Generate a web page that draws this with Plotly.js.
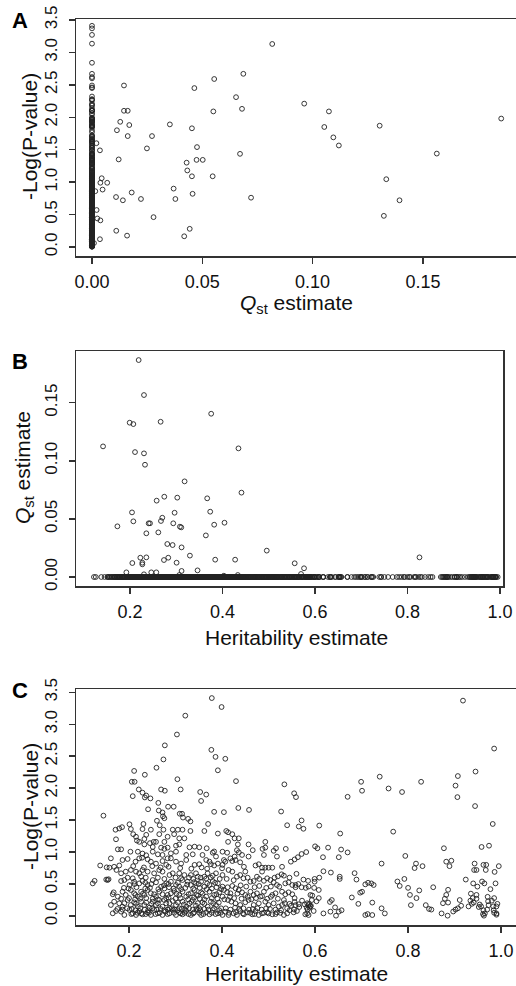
<!DOCTYPE html>
<html><head><meta charset="utf-8">
<script src="https://cdn.plot.ly/plotly-3.0.1.min.js"></script>
<style>html,body{margin:0;padding:0;background:#fff}#plot{width:516px;height:986px}</style>
</head><body><div id="plot"></div>
<script>
// Panel C: heritability estimate vs -Log(P-value)
const cHerit = [
.378,.399,.321,.303,.277,.274,.377,.386,.407,.391,.430,.259,.234,.211,.206,.212,.304,.208,.221,.229,.237,.246,.234,.269,.277,.311,.353,.366,.355,.241,.263,.264,.272,.284,.296,.309,.314,.327,.332,.316,.231,.260,.266,.273,.276,.370,.404,.435,.458,.145,.527,.534,.555,.559,.540,.571,.565,.575,.609,.670,.699,.701,.739,.758,.787,.828,.768,.902,.906,.907,.918,.945,.944,.985,.982,.974,.958,.654,.383,.201,
.171,.179,.185,.204,.229,.247,.274,.294,.305,.315,.332,.362,.391,.209,.215,.237,.265,.283,.297,.308,.319,.233,.253,.276,.172,.217,.222,.233,.245,.258,.269,.276,.283,.301,.308,.330,.341,.351,.367,.383,.251,.176,.183,.203,.219,.229,.237,.251,.262,.272,.290,.301,.323,.337,.358,.380,.387,.401,.222,.228,.240,
.161,.186,.197,.214,.247,.258,.272,.280,.283,.290,.301,.312,.323,.341,.351,.366,.373,.376,.383,.391,.401,.138,.152,.158,.168,.179,
.204,.215,.222,.229,.240,.254,.265,.272,.287,.294,.308,.319,.333,.344,.348,.362,.369,.380,.387,.401,.183,.193,.173,
.122,.154,.183,.190,.201,.211,.222,.229,.240,.251,.258,.269,.280,.290,.301,.308,.315,.326,.333,.344,.355,.362,.373,.380,.391,.401,.126,.151,.156,.167,
.186,.193,.204,.211,.219,.226,.233,.240,.247,.258,.265,.272,.280,.290,.297,.308,.315,.323,.333,.341,.348,.355,.366,.373,.383,.394,.401,.165,.176,
.161,.168,.179,.186,.197,.204,.211,.219,.226,.233,.244,.251,.258,.265,.272,.280,.287,.294,.301,.308,.315,.323,.330,.337,.344,.351,.358,.369,.376,.387,.398,
.165,.172,.183,.190,.201,.208,.215,.222,.229,.240,.247,.254,.262,.272,.278,.287,.294,.301,.308,.315,.323,.333,.340,.348,.355,.366,.373,.380,.391,.401,
.409,.413,.422,.427,.413,.436,.434,.457,.493,.487,.493,.411,.432,.436,.418,.427,.443,.466,.490,.518,.404,.407,.422,.429,.439,.447,.457,.472,.479,.486,.493,.500,.508,.529,.400,.414,.422,.432,.439,.450,.461,.468,.475,.486,.497,.504,.511,.518,.523,.528,.533,.536,.543,.551,.558,.599,.608,
.404,.411,.418,.429,.436,.443,.450,.461,.468,.475,.482,.490,.508,.515,.529,.536,.543,.551,.590,.413,.420,.429,.439,.450,.457,.468,.479,.493,.500,.511,.522,.529,.540,.565,.597,.633,.651,
.407,.414,.425,.432,.439,.447,.454,.465,.472,.479,.486,.497,.508,.518,.533,.540,.554,.561,.579,
.656,.670,.600,.605,.628,.617,.581,.571,.563,.556,.548,.537,.516,.511,.651,.618,.634,.609,.653,.653,.599,.685,.689,.708,.714,.721,.726,.743,.794,.817,.814,.831,.792,.777,.782,.800,.804,.818,.824,.806,.838,.854,.850,.877,.882,.893,.889,.872,.886,.882,.879,.886,.875,.885,.897,.924,.911,.914,.907,.902,.943,.942,.947,.967,.962,.968,.986,.995,.940,.949,.959,.964,.988,.977,.971,.935,.939,.947,.941,.934,.937,.957,.962,.961,.965,.973,.980,.983,.990,.985,.990,.985,.954,.930,
.643,.618,.645,.636,.632,.657,.598,.586,.580,.571,.564,.558,.594,.608,.583,.586,.590,.588,.583,.586,.556,.558,.555,.545,.679,.693,.697,.701,.723,.708,.713,.723,.743,.750,.845,.947,.952,.970,.984,.990,.963,.972,.992,
.197,.208,.226,.236,.262,.276,.300,.312,.329,.338,.354,.366,.376,.395,
.189,.199,.216,.235,.245,.263,.276,.286,.296,.312,.321,.338,.352,.367,.378,.388,.398,
.183,.200,.213,.224,.237,.251,.262,.276,.285,.300,.311,.327,.340,.352,.362,.378,.390,
.175,.186,.196,.206,.214,.224,.234,.241,.250,.260,.268,.276,.283,.292,.298,.305,.313,.320,.329,.337,.345,.353,.362,.371,.383,.394,
.205,.218,.226,.236,.243,.257,.266,.283,.297,.311,.320,.328,.338,.351,.360,.378,.386,.397,
.190,.215,.237,.248,.262,.287,.305,.318,.334,.348,.362,.381,.393,
.214,.230,.254,.283,.302,.328,.345,.358,.388,
.212,.235,.248,.275,.285,.305,.325,.340,.350,.368,.385,
.209,.232,.250,.268,.285,.310,.334,.356,.368,
.405,.417,.426,.433,.442,.455,.463,.473,.486,.497,.505,.520,.533,
.408,.418,.428,.437,.446,.458,.466,.476,.485,.495,.503,.515,.527,.545,
.412,.422,.440,.452,.470,.480,.495,.505,
.410,.425,.446,.455,.480,.490,.513,
.415,.430,.445,.460,.470,.490,.500,.515,.525,
.578,.582,.587,.591,.584,.535,.548,.556,.566,.572,.593,.603,.520,.545,.560,.575,.585
];
const cLogP = [
3.41,3.27,3.135,2.84,2.67,2.45,2.60,2.49,2.46,2.28,2.11,2.32,2.21,2.27,2.10,2.10,2.14,1.875,1.98,1.93,1.885,1.84,1.855,1.98,1.96,1.98,1.94,1.90,1.80,1.67,1.77,1.65,1.62,1.71,1.71,1.60,1.60,1.52,1.48,1.54,1.44,1.49,1.42,1.56,1.53,1.44,1.625,1.69,1.66,1.57,1.635,2.06,1.92,1.86,1.42,1.495,1.40,1.365,1.415,1.865,2.10,1.96,2.18,1.995,1.94,2.10,1.32,2.04,1.86,2.19,3.37,2.26,1.72,2.62,1.44,1.10,1.08,1.29,1.63,1.435,
1.35,1.37,1.39,1.36,1.36,1.35,1.35,1.35,1.35,1.35,1.33,1.33,1.29,1.28,1.24,1.27,1.28,1.24,1.28,1.215,1.215,1.205,1.16,1.16,1.20,1.18,1.16,1.12,1.14,1.16,1.07,1.05,1.07,1.10,1.12,1.075,1.085,1.075,1.06,1.01,1.08,1.043,1.043,1.006,1.006,0.977,0.95,1.006,0.965,0.955,0.98,1.006,0.955,0.965,0.955,0.99,0.93,1.006,0.902,0.912,0.887,
0.902,0.876,0.892,0.85,0.85,0.82,0.86,0.80,0.902,0.902,0.85,0.82,0.876,0.80,0.81,0.876,0.85,0.81,0.79,0.82,0.80,0.79,0.761,0.756,0.77,0.79,
0.72,0.694,0.668,0.72,0.694,0.668,0.72,0.694,0.641,0.668,0.668,0.641,0.641,0.668,0.615,0.615,0.668,0.631,0.668,0.641,0.668,0.694,0.72,
0.51,0.563,0.547,0.563,0.485,0.537,0.51,0.547,0.485,0.563,0.527,0.459,0.51,0.537,0.485,0.459,0.563,0.537,0.485,0.51,0.537,0.459,0.485,0.547,0.51,0.459,0.55,0.57,0.575,0.37,
0.38,0.329,0.407,0.355,0.303,0.38,0.329,0.407,0.355,0.303,0.38,0.34,0.277,0.355,0.391,0.329,0.38,0.303,0.355,0.407,0.318,0.37,0.303,0.38,0.329,0.37,0.303,0.34,0.303,
0.172,0.224,0.198,0.146,0.25,0.172,0.214,0.146,0.224,0.172,0.13,0.224,0.172,0.25,0.146,0.198,0.12,0.235,0.172,0.12,0.224,0.146,0.198,0.25,0.162,0.12,0.214,0.146,0.224,0.172,0.12,
0.042,0.078,0.068,0.016,0.094,0.042,0.016,0.078,0.026,0.057,0.016,0.094,0.042,0.016,0.068,0.042,0.094,0.016,0.057,0.026,0.078,0.016,0.057,0.094,0.016,0.057,0.026,0.094,0.042,0.016,
1.33,1.31,1.28,1.215,1.16,1.215,1.12,1.12,1.16,1.05,1.07,0.99,1.03,0.996,0.902,0.93,0.955,1.03,0.955,0.93,0.876,0.85,0.86,0.876,0.84,0.77,0.93,0.79,0.81,0.756,0.756,0.756,0.756,0.77,0.746,0.72,0.694,0.615,0.641,0.694,0.537,0.547,0.615,0.694,0.59,0.563,0.527,0.485,0.459,0.652,0.631,0.51,0.527,0.485,0.485,0.537,0.407,
0.407,0.37,0.355,0.433,0.407,0.37,0.329,0.38,0.329,0.355,0.303,0.38,0.329,0.355,0.38,0.34,0.37,0.34,0.329,0.25,0.224,0.198,0.172,0.214,0.25,0.172,0.198,0.224,0.172,0.198,0.146,0.172,0.12,0.183,0.078,0.068,0.068,
0.068,0.016,0.042,0.016,0.078,0.026,0.057,0.026,0.078,0.016,0.042,0.057,0.026,0.057,0.016,0.042,0.057,0.078,0.026,
1.04,0.995,1.09,1.06,1.07,0.92,1.0,0.97,0.92,0.885,0.85,1.05,1.06,1.02,0.92,0.70,0.68,0.60,0.615,0.58,0.58,0.67,0.57,0.495,0.52,0.51,0.485,0.82,0.94,0.82,0.75,0.78,0.58,0.54,0.47,0.44,0.33,0.28,0.40,0.17,0.17,0.45,0.10,1.06,0.85,0.865,0.78,0.04,0.41,0.33,0.27,0.21,0.20,0.005,0.07,0.57,0.25,0.16,0.12,0.10,0.82,0.72,0.72,0.72,0.80,0.80,0.69,0.78,0.51,0.46,0.54,0.51,0.51,0.42,0.30,0.35,0.28,0.33,0.21,0.24,0.19,0.15,0.09,0.03,0.04,0.17,0.24,0.15,0.15,0.05,0.04,0.28,0.18,0.15,
0.135,0.04,0.005,0.25,0.22,0.09,0.44,0.46,0.44,0.45,0.50,0.45,0.32,0.28,0.20,0.17,0.15,0.13,0.04,0.015,0.28,0.17,0.10,0.19,0.29,0.19,0.365,0.38,0.21,0.015,0.03,0.015,0.12,0.04,0.11,0.27,0.14,0.10,0.09,0.02,0.005,0.23,0.19,
0.60,0.59,0.62,0.60,0.60,0.58,0.60,0.59,0.60,0.58,0.60,0.585,0.60,0.58,
0.44,0.43,0.45,0.43,0.44,0.42,0.43,0.45,0.43,0.42,0.44,0.43,0.44,0.42,0.43,0.45,0.42,
0.27,0.28,0.26,0.27,0.28,0.27,0.26,0.25,0.29,0.27,0.28,0.26,0.29,0.27,0.26,0.28,0.27,
0.11,0.10,0.12,0.11,0.09,0.12,0.10,0.09,0.12,0.10,0.11,0.09,0.10,0.12,0.10,0.09,0.11,0.10,0.12,0.10,0.11,0.09,0.11,0.10,0.12,0.09,
0.03,0.05,0.04,0.03,0.05,0.03,0.05,0.03,0.05,0.04,0.05,0.03,0.04,0.05,0.03,0.05,0.03,0.05,
0.20,0.19,0.21,0.19,0.20,0.20,0.21,0.18,0.22,0.20,0.19,0.20,0.21,
0.33,0.35,0.34,0.33,0.35,0.34,0.33,0.35,0.34,
0.50,0.52,0.50,0.48,0.50,0.52,0.49,0.53,0.50,0.51,0.52,
0.78,0.76,0.78,0.76,0.77,0.75,0.74,0.76,0.74,
0.26,0.30,0.28,0.35,0.27,0.30,0.26,0.28,0.31,0.27,0.30,0.27,0.25,
0.12,0.10,0.13,0.11,0.12,0.10,0.11,0.12,0.10,0.12,0.11,0.10,0.09,0.09,
0.45,0.47,0.48,0.46,0.45,0.47,0.44,0.46,
0.58,0.56,0.59,0.60,0.58,0.55,0.60,
0.05,0.06,0.04,0.05,0.03,0.05,0.04,0.03,0.05,
0.18,0.13,0.19,0.16,0.10,0.20,0.16,0.22,0.14,0.24,0.25,0.23,0.62,0.60,0.66,0.57,0.55
];
// Panel A: non-zero Qst estimates vs -Log(P-value)
const aQst = [.0817,.0686,.0554,.0464,.0653,.0680,.0550,.0962,.1074,.1053,.1094,.1119,.1304,.1855,.1563,.1334,.1394,.1323,.0721,.0671,.0547,.0476,.0453,.0474,.0502,.0429,.0432,.0453,.0456,.0370,.0378,.0443,.0418,.0353,.0249,.0272,.0279,.0222,.0180,.0169,.0162,.0145,.0162,.0145,.0128,.0113,.0121,.0109,.0140,.0110,.0159,.0069,.0044,.0038,.0048,.0036,.0020,.0015,.0021,.0024,.0038,.0036,.0009];
const aLogP = [3.13,2.67,2.59,2.45,2.31,2.13,2.09,2.21,2.09,1.85,1.69,1.565,1.87,1.98,1.44,1.045,0.72,0.48,0.76,1.436,1.09,1.54,1.83,1.343,1.343,1.30,1.18,1.09,0.82,0.90,0.74,0.28,0.165,1.89,1.52,1.71,0.46,0.74,0.84,1.88,1.71,2.10,2.10,2.49,1.93,1.80,1.35,0.77,0.72,0.25,0.175,0.99,1.06,0.99,0.885,1.49,1.60,0.86,0.57,0.44,0.41,0.12,0.06];
// Panel B: heritability vs non-zero Qst estimates
const bHerit = [.2187,.2302,.1993,.2072,.2662,.3755,.1417,.4345,.2108,.2302,.2324,.3180,.4410,.2741,.3022,.2576,.3669,.2964,.3734,.2043,.2698,.2669,.2072,.2403,.2432,.2935,.4043,.3079,.3108,.3820,.1727,.2353,.2612,.3640,.2806,.2921,.3115,.3295,.2223,.2353,.2827,.2734,.3007,.3842,.4273,.2266,.2266,.2050,.4957,.5561,.5763,.5698,.8259,.1921,.2460,.2568,.3115,.3460,.2302,.3065,.4331,.4029];
const bQst = [.1867,.1566,.1328,.1316,.1336,.1405,.1124,.1107,.1075,.1064,.0966,.0823,.0726,.0691,.0683,.0657,.0677,.0553,.0562,.0556,.0510,.0482,.0479,.0462,.0462,.0462,.0467,.0433,.0427,.0450,.0436,.0376,.0384,.0358,.0284,.0275,.0255,.0184,.0166,.0169,.0166,.0146,.0123,.0149,.0149,.0123,.0109,.0120,.0227,.0118,.0075,.0026,.0169,.0040,.0040,.0040,.0052,.0057,.0023,.0017,.0017,.0011];
// Tick values
const logTicks = [0, 0.5, 1, 1.5, 2, 2.5, 3, 3.5];
const qstTicks = [0, 0.05, 0.10, 0.15];
const herTicks = [0.2, 0.4, 0.6, 0.8, 1.0];

const W = 516, H = 986;
const fx = v => v / W, fy = v => 1 - v / H;
const ink = '#222';
const mk = {symbol: 'circle-open', size: 4.8, color: ink, line: {width: 0.9, color: ink}};
const FONT = 'Liberation Sans, Arial, Helvetica, sans-serif';

const traces = [
  {x: cLogP.map(() => 0), y: cLogP, xaxis: 'x', yaxis: 'y'},
  {x: aQst, y: aLogP, xaxis: 'x', yaxis: 'y'},
  {x: cHerit, y: cHerit.map(() => 0), xaxis: 'x2', yaxis: 'y2'},
  {x: bHerit, y: bQst, xaxis: 'x2', yaxis: 'y2'},
  {x: cHerit, y: cLogP, xaxis: 'x3', yaxis: 'y3'}
].map(t => Object.assign(t, {type: 'scatter', mode: 'markers', marker: mk, hoverinfo: 'skip', cliponaxis: false}))
 .concat([['x', 'y4'], ['x2', 'y5'], ['x3', 'y6']].map(p => ({type: 'scatter', mode: 'markers', x: [], y: [],
   xaxis: p[0], yaxis: p[1], hoverinfo: 'skip'})));

const ax = {
  showline: true, linecolor: '#333', linewidth: 1.5, ticks: 'outside', ticklen: 6, tickwidth: 1.5,
  tickcolor: '#333', showgrid: false, zeroline: false, fixedrange: true, ticklabelstandoff: 3,
  tickfont: {family: FONT, size: 18, color: '#111'}
};
const yax = Object.assign({}, ax, {showticklabels: false});
// label-only overlay axes (longer invisible ticks push the rotated labels away from the frame)
const ylab = {showline: false, showgrid: false, zeroline: false, fixedrange: true, ticks: 'outside', ticklen: 11,
  tickcolor: 'rgba(0,0,0,0)', tickangle: -90, side: 'left', tickfont: {family: FONT, size: 17, color: '#111'}};

const rA = [-0.139, 3.515], rB = [-0.00775, 0.1945], rC = [-0.141, 3.552];
const layout = {
  width: W, height: H, margin: {l: 0, r: 0, t: 0, b: 0}, showlegend: false,
  paper_bgcolor: '#fff', plot_bgcolor: '#fff', font: {family: FONT, color: '#111'},
  xaxis: Object.assign({}, ax, {domain: [fx(76), 1], range: [-0.00725, 0.1922], anchor: 'y', mirror: true,
    tickvals: qstTicks, tickformat: '.2f'}),
  yaxis: Object.assign({}, yax, {domain: [fy(256), fy(19)], range: rA, anchor: 'x', tickvals: logTicks}),
  xaxis2: Object.assign({}, ax, {domain: [fx(76), fx(503)], range: [0.0832, 1.0065], anchor: 'y2', mirror: true,
    tickvals: herTicks, tickformat: '.1f'}),
  yaxis2: Object.assign({}, yax, {domain: [fy(586), fy(351)], range: rB, anchor: 'x2', mirror: true, tickvals: qstTicks}),
  xaxis3: Object.assign({}, ax, {domain: [fx(76), 1], range: [0.086, 1.032], anchor: 'y3', mirror: true,
    tickvals: herTicks, tickformat: '.1f'}),
  yaxis3: Object.assign({}, yax, {domain: [fy(925), fy(689)], range: rC, anchor: 'x3', tickvals: logTicks}),
  yaxis4: Object.assign({}, ylab, {overlaying: 'y', anchor: 'x', range: rA, tickvals: logTicks, tickformat: '.1f'}),
  yaxis5: Object.assign({}, ylab, {overlaying: 'y2', anchor: 'x2', range: rB, tickvals: qstTicks, tickformat: '.2f'}),
  yaxis6: Object.assign({}, ylab, {overlaying: 'y3', anchor: 'x3', range: rC, tickvals: logTicks, tickformat: '.1f'}),
  annotations: [
    {text: '<b>A</b>', x: fx(20), y: fy(21)},
    {text: '<b>B</b>', x: fx(20), y: fy(361)},
    {text: '<b>C</b>', x: fx(20), y: fy(690)},
  ].map(a => Object.assign(a, {xref: 'paper', yref: 'paper', showarrow: false, xanchor: 'center', yanchor: 'middle',
    font: {family: FONT, size: 22, color: '#000'}})).concat([
    {text: '-Log(P-value)', x: fx(30), y: fy(137), textangle: -90},
    {text: '<i>Q</i><sub>st</sub> estimate', x: fx(296), y: fy(304)},
    {text: '<i>Q</i><sub>st</sub> estimate', x: fx(24), y: fy(468), textangle: -90},
    {text: 'Heritability estimate', x: fx(296), y: fy(637)},
    {text: '-Log(P-value)', x: fx(30), y: fy(807), textangle: -90},
    {text: 'Heritability estimate', x: fx(296), y: fy(973)}
  ].map(a => Object.assign(a, {xref: 'paper', yref: 'paper', showarrow: false, xanchor: 'center', yanchor: 'middle',
    font: {family: FONT, size: 21, color: '#111'}})))
};

Plotly.newPlot('plot', traces, layout, {staticPlot: true, displayModeBar: false});
</script></body></html>
